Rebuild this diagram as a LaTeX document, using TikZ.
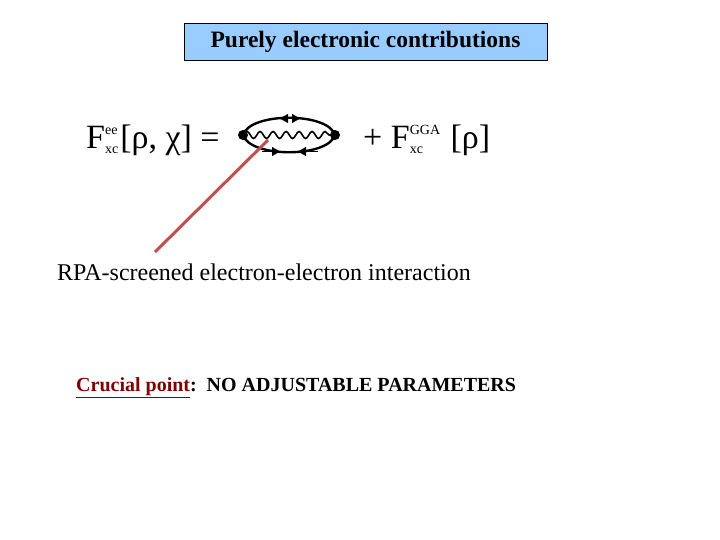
\documentclass[tikz,border=0pt]{standalone}
\usepackage{fontspec}
\setmainfont{Liberation Serif}
\usetikzlibrary{decorations.pathmorphing,arrows.meta}
\definecolor{boxblue}{RGB}{153,204,255}
\definecolor{ptr}{RGB}{192,80,77}
\definecolor{crucial}{RGB}{128,0,0}
\newcommand{\supsubx}[2]{{\fontsize{14}{14}\selectfont\sbox0{#1}\sbox2{#2}%
  \ifdim\wd0>\wd2 \dimen0=\wd0 \else \dimen0=\wd2 \fi
  \rlap{\raisebox{0.95em}{#1}}\rlap{\raisebox{-0.35em}{#2}}\hspace*{\dimen0}\hspace{2pt}}}
\begin{document}
\begin{tikzpicture}[x=1pt,y=-1pt,
  txt/.style={inner sep=0pt,anchor=west},
  prop/.style={line width=2.4pt},
  ah/.style={-{Triangle[length=8pt,width=9pt]},line width=0.1pt}]
\useasboundingbox (0,0) rectangle (720,540);
\node[draw,fill=boxblue,minimum width=363pt,minimum height=37pt,inner sep=0pt,font=\bfseries\fontsize{23.5}{26}\selectfont] (title) at (365.5,41.5) {Purely electronic contributions};
\node[txt,font=\fontsize{34}{38}\selectfont] (lhs) at (86,140) {F\supsubx{ee}{xc}[ρ, χ] =};
\node[txt,font=\fontsize{34}{38}\selectfont] (rhs) at (363,140) {+ F\supsubx{GGA}{xc} [ρ]};
\coordinate (L) at (243,135);
\coordinate (R) at (335,135);
\draw[prop] (L) .. controls (250,112) and (328,112) .. (R);
\draw[prop] (L) .. controls (250,158) and (328,158) .. (R);
\fill (L) circle (5); \fill (R) circle (5);
\draw[ah] (298,118.5) -- (280,118.5);
\draw[ah] (281,118.5) -- (300,118.5);
\draw[ah] (262,151.5) -- (280,151.5);
\draw[ah] (318,151.5) -- (298,151.5);
\draw[line width=1.6pt,decorate,decoration={snake,amplitude=3.5pt,segment length=13pt}] (L) -- (R);
\coordinate (tip) at (155,252);
\draw[ptr,line width=3pt] (tip) -- (268,140);
\node[txt,font=\fontsize{24}{28}\selectfont] (rpa) at (57,272) {RPA-screened electron-electron interaction};
\node[txt,font=\bfseries\fontsize{20}{23}\selectfont] (cp) at (76,388) {\textcolor{crucial}{\underline{Crucial point}}:\ \ NO ADJUSTABLE PARAMETERS};
\end{tikzpicture}
\end{document}
